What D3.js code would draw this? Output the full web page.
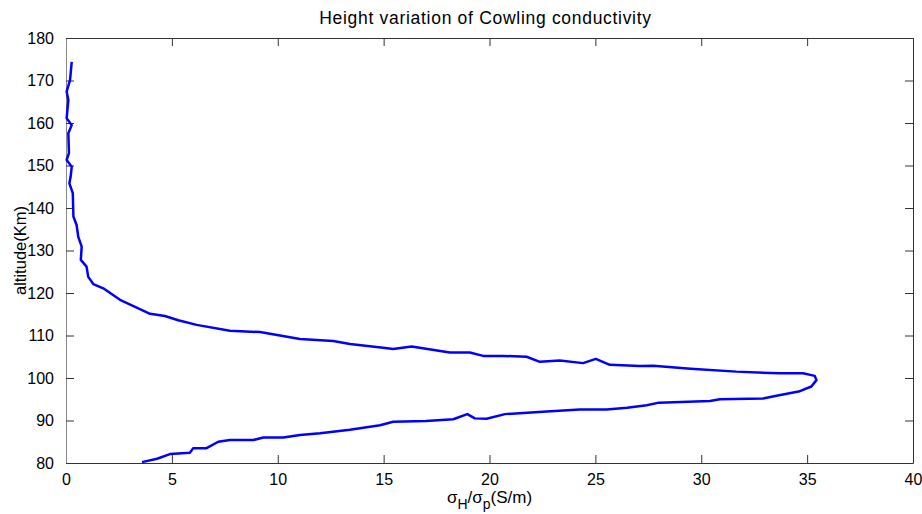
<!DOCTYPE html>
<html>
<head>
<meta charset="utf-8">
<script src="https://cdn.jsdelivr.net/npm/d3@7"></script>
<style>
  body { margin: 0; background: #fff; }
  svg { display: block; font-family: Arial, "Liberation Sans", sans-serif; }
</style>
</head>
<body>
<div id="chart"></div>
<script>
const ratio = [3.59, 4.3, 4.91, 5.85, 6.01, 6.64, 7.19, 7.74, 8.84, 9.32, 10.26, 11.05, 12.0, 13.41,
  14.83, 15.45, 17.0, 18.29, 18.95, 19.31, 19.86, 20.73, 22.7, 24.27, 25.53, 26.5, 27.42, 28.0,
  30.41, 30.88, 32.92, 33.55, 34.6, 35.2, 35.44, 35.36,
  34.81, 33.71, 31.66, 29.5, 27.73, 27.1, 25.68, 25.02, 24.42, 23.32, 22.38, 21.75, 20.65, 19.7,
  19.07, 18.13, 16.32, 15.45, 14.98, 13.41, 12.62, 11.05, 9.16, 7.74, 6.17, 5.3, 4.67, 3.97,
  2.55, 1.76, 1.29, 1.05, 0.97, 0.7, 0.74, 0.58, 0.5, 0.35, 0.32, 0.16, 0.22, 0.27, 0.03, 0.14,
  0.11, 0.27, 0.03, 0.11, 0.03, 0.19, 0.27];
const altitude = [80.2, 81.0, 82.1, 82.4, 83.5, 83.5, 85.0, 85.4, 85.4, 86.0, 86.0, 86.6, 87.0, 87.8,
  88.9, 89.7, 89.9, 90.3, 91.5, 90.5, 90.4, 91.5, 92.1, 92.6, 92.6, 93.0, 93.6, 94.2,
  94.6, 95.0, 95.2, 95.8, 96.8, 98.0, 99.5, 100.5,
  101.1, 101.1, 101.5, 102.2, 102.9, 102.8, 103.1, 104.5, 103.5, 104.1, 103.8, 105.0, 105.2, 105.2,
  106.0, 106.0, 107.4, 106.8, 107.1, 108.0, 108.7, 109.2, 110.8, 111.1, 112.5, 113.6, 114.6, 115.1,
  118.4, 121.1, 122.1, 123.8, 126.2, 127.8, 130.9, 133.2, 136.0, 138.0, 143.5, 145.8, 147.4, 149.7,
  151.3, 152.9, 157.6, 159.5, 161.1, 165.4, 167.4, 170.1, 174.4];
const xTicks = [0, 5, 10, 15, 20, 25, 30, 35, 40];
const yTicks = [80, 90, 100, 110, 120, 130, 140, 150, 160, 170, 180];

const width = 922, height = 514;
const margin = { top: 38, right: 9, bottom: 51, left: 66 };
const iw = width - margin.left - margin.right;
const ih = height - margin.top - margin.bottom;

const svg = d3.select("#chart").append("svg")
  .attr("width", width)
  .attr("height", height);

const g = svg.append("g").attr("transform", `translate(${margin.left},${margin.top})`);

const x = d3.scaleLinear().domain([0, 40]).range([0, iw]);
const y = d3.scaleLinear().domain([80, 180]).range([ih, 0]);

const tickLen = 8;
const axisColor = "#333";

// box axes, ticks pointing inward
g.append("g").attr("transform", `translate(0,${ih})`)
  .call(d3.axisBottom(x).tickValues(xTicks).tickSize(-tickLen).tickPadding(tickLen + 3).tickSizeOuter(0));
g.append("g")
  .call(d3.axisTop(x).tickValues(xTicks).tickSize(-tickLen).tickFormat("").tickSizeOuter(0));
const yAxis = g.append("g")
  .call(d3.axisLeft(y).tickValues(yTicks).tickSize(-tickLen).tickPadding(tickLen + 4).tickSizeOuter(0));
g.append("g").attr("transform", `translate(${iw},0)`)
  .call(d3.axisRight(y).tickValues(yTicks).tickSize(-tickLen).tickFormat("").tickSizeOuter(0));

g.selectAll(".domain, .tick line").attr("stroke", axisColor);
yAxis.select(".domain").attr("stroke", "#888");
g.selectAll(".tick text").attr("font-size", 16).attr("fill", "#000")
  .attr("font-family", "Arial, 'Liberation Sans', sans-serif");

// curve
const pts = ratio.map((v, i) => [v, altitude[i]]);
g.append("path")
  .datum(pts)
  .attr("fill", "none")
  .attr("stroke", "#0000ff")
  .attr("stroke-width", 2.5)
  .attr("stroke-linejoin", "round")
  .attr("d", d3.line().x(d => x(d[0])).y(d => y(d[1])));

// title
svg.append("text")
  .attr("x", margin.left + iw / 2 - 4).attr("y", 24)
  .attr("text-anchor", "middle").attr("font-size", 17.5)
  .attr("letter-spacing", 0.7)
  .text("Height variation of Cowling conductivity");

// x label with subscripts
const xl = svg.append("text")
  .attr("x", margin.left + iw / 2).attr("y", 503)
  .attr("text-anchor", "middle").attr("font-size", 17);
xl.append("tspan").text("σ");
xl.append("tspan").attr("font-size", 14).attr("dy", 6).text("H");
xl.append("tspan").attr("dy", -6).text("/σ");
xl.append("tspan").attr("font-size", 14).attr("dy", 6).text("p");
xl.append("tspan").attr("dy", -6).text("(S/m)");

// y label
svg.append("text")
  .attr("transform", `translate(26,${margin.top + ih / 2}) rotate(-90)`)
  .attr("text-anchor", "middle").attr("font-size", 16.5)
  .text("altitude(Km)");
</script>
</body>
</html>
